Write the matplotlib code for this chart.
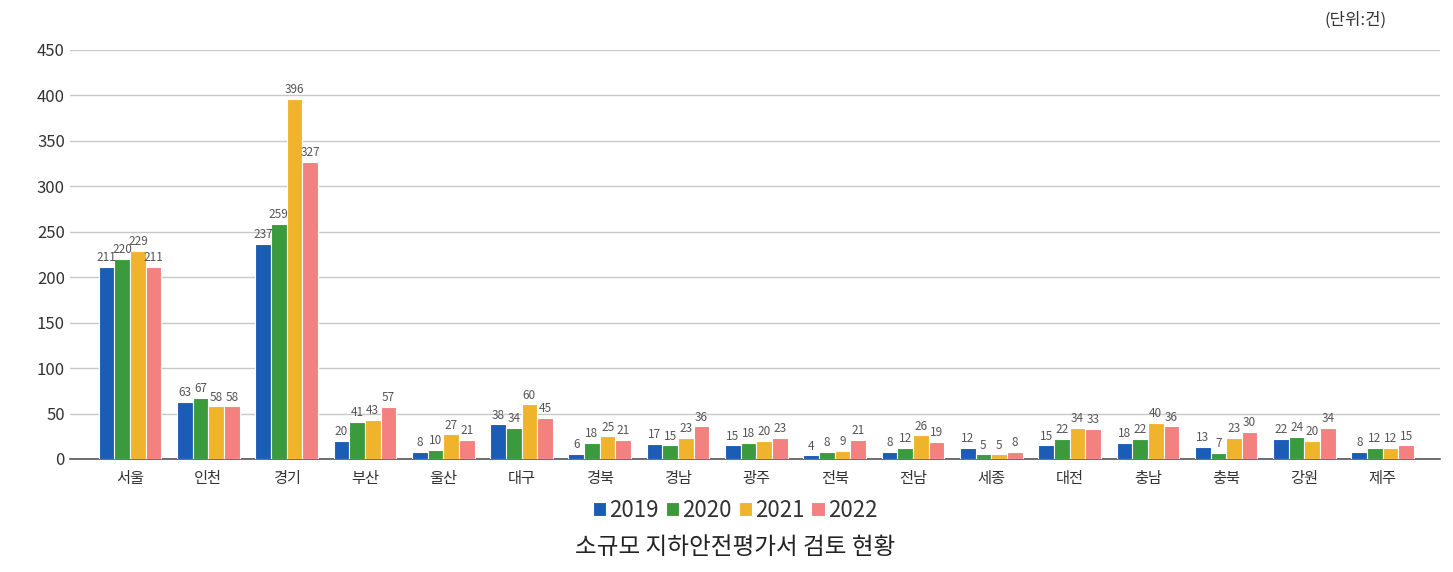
import matplotlib
matplotlib.use("Agg")
import matplotlib.pyplot as plt
import numpy as np

plt.rcParams["font.family"] = ["Noto Sans CJK KR", "DejaVu Sans"]

regions = ["서울", "인천", "경기", "부산", "울산", "대구", "경북", "경남", "광주",
           "전북", "전남", "세종", "대전", "충남", "충북", "강원", "제주"]
years = ["2019", "2020", "2021", "2022"]
v2019 = [211, 63, 237, 20, 8, 38, 6, 17, 15, 4, 8, 12, 15, 18, 13, 22, 8]
v2020 = [220, 67, 259, 41, 10, 34, 18, 15, 18, 8, 12, 5, 22, 22, 7, 24, 12]
v2021 = [229, 58, 396, 43, 27, 60, 25, 23, 20, 9, 26, 5, 34, 40, 23, 20, 12]
v2022 = [211, 58, 327, 57, 21, 45, 21, 36, 23, 21, 19, 8, 33, 36, 30, 34, 15]

COLORS = ["#1b5cb5", "#3a9a3c", "#f0b42c", "#f2817f"]

fig = plt.figure(figsize=(14.53, 5.72), dpi=100)
ax = fig.add_axes([0.048, 0.1976, 0.943, 0.715])

x = np.arange(len(regions))
w = 0.2
series = [v2019, v2020, v2021, v2022]
for i, (vals, c, lbl) in enumerate(zip(series, COLORS, years)):
    pos = x + (i - 1.5) * w
    ax.bar(pos, vals, w, color=c, edgecolor="white", linewidth=0.8, label=lbl, zorder=3)
    for px, v in zip(pos, vals):
        ax.text(px, v + 3, str(v), ha="center", va="bottom", fontsize=8.5,
                color="#555555", zorder=4)

ax.set_ylim(0, 450)
ax.set_yticks(range(0, 451, 50))
ax.set_xlim(-0.77, len(regions) - 0.27)
ax.set_xticks(x)
ax.set_xticklabels(regions, fontsize=11, color="#333333")
ax.tick_params(axis="y", labelsize=12, colors="#333333", length=0)
ax.tick_params(axis="x", length=0, pad=8)
ax.grid(axis="y", color="#c8c8c8", linewidth=1.0, zorder=0)
for side in ["top", "right", "left"]:
    ax.spines[side].set_visible(False)
ax.spines["bottom"].set_color("#555555")
ax.spines["bottom"].set_linewidth(1.2)

fig.legend(loc="center", bbox_to_anchor=(0.506, 0.108), ncol=4, frameon=False,
           fontsize=16, handlelength=0.6, handleheight=0.6, handletextpad=0.15,
           columnspacing=0.3, labelcolor="#333333")
fig.text(0.506, 0.042, "소규모 지하안전평가서 검토 현황", ha="center", va="center",
         fontsize=17, color="#222222")
fig.text(0.933, 0.965, "(단위:건)", ha="center", va="center", fontsize=12,
         color="#333333", fontweight="medium")

fig.savefig("out.png", dpi=100)
